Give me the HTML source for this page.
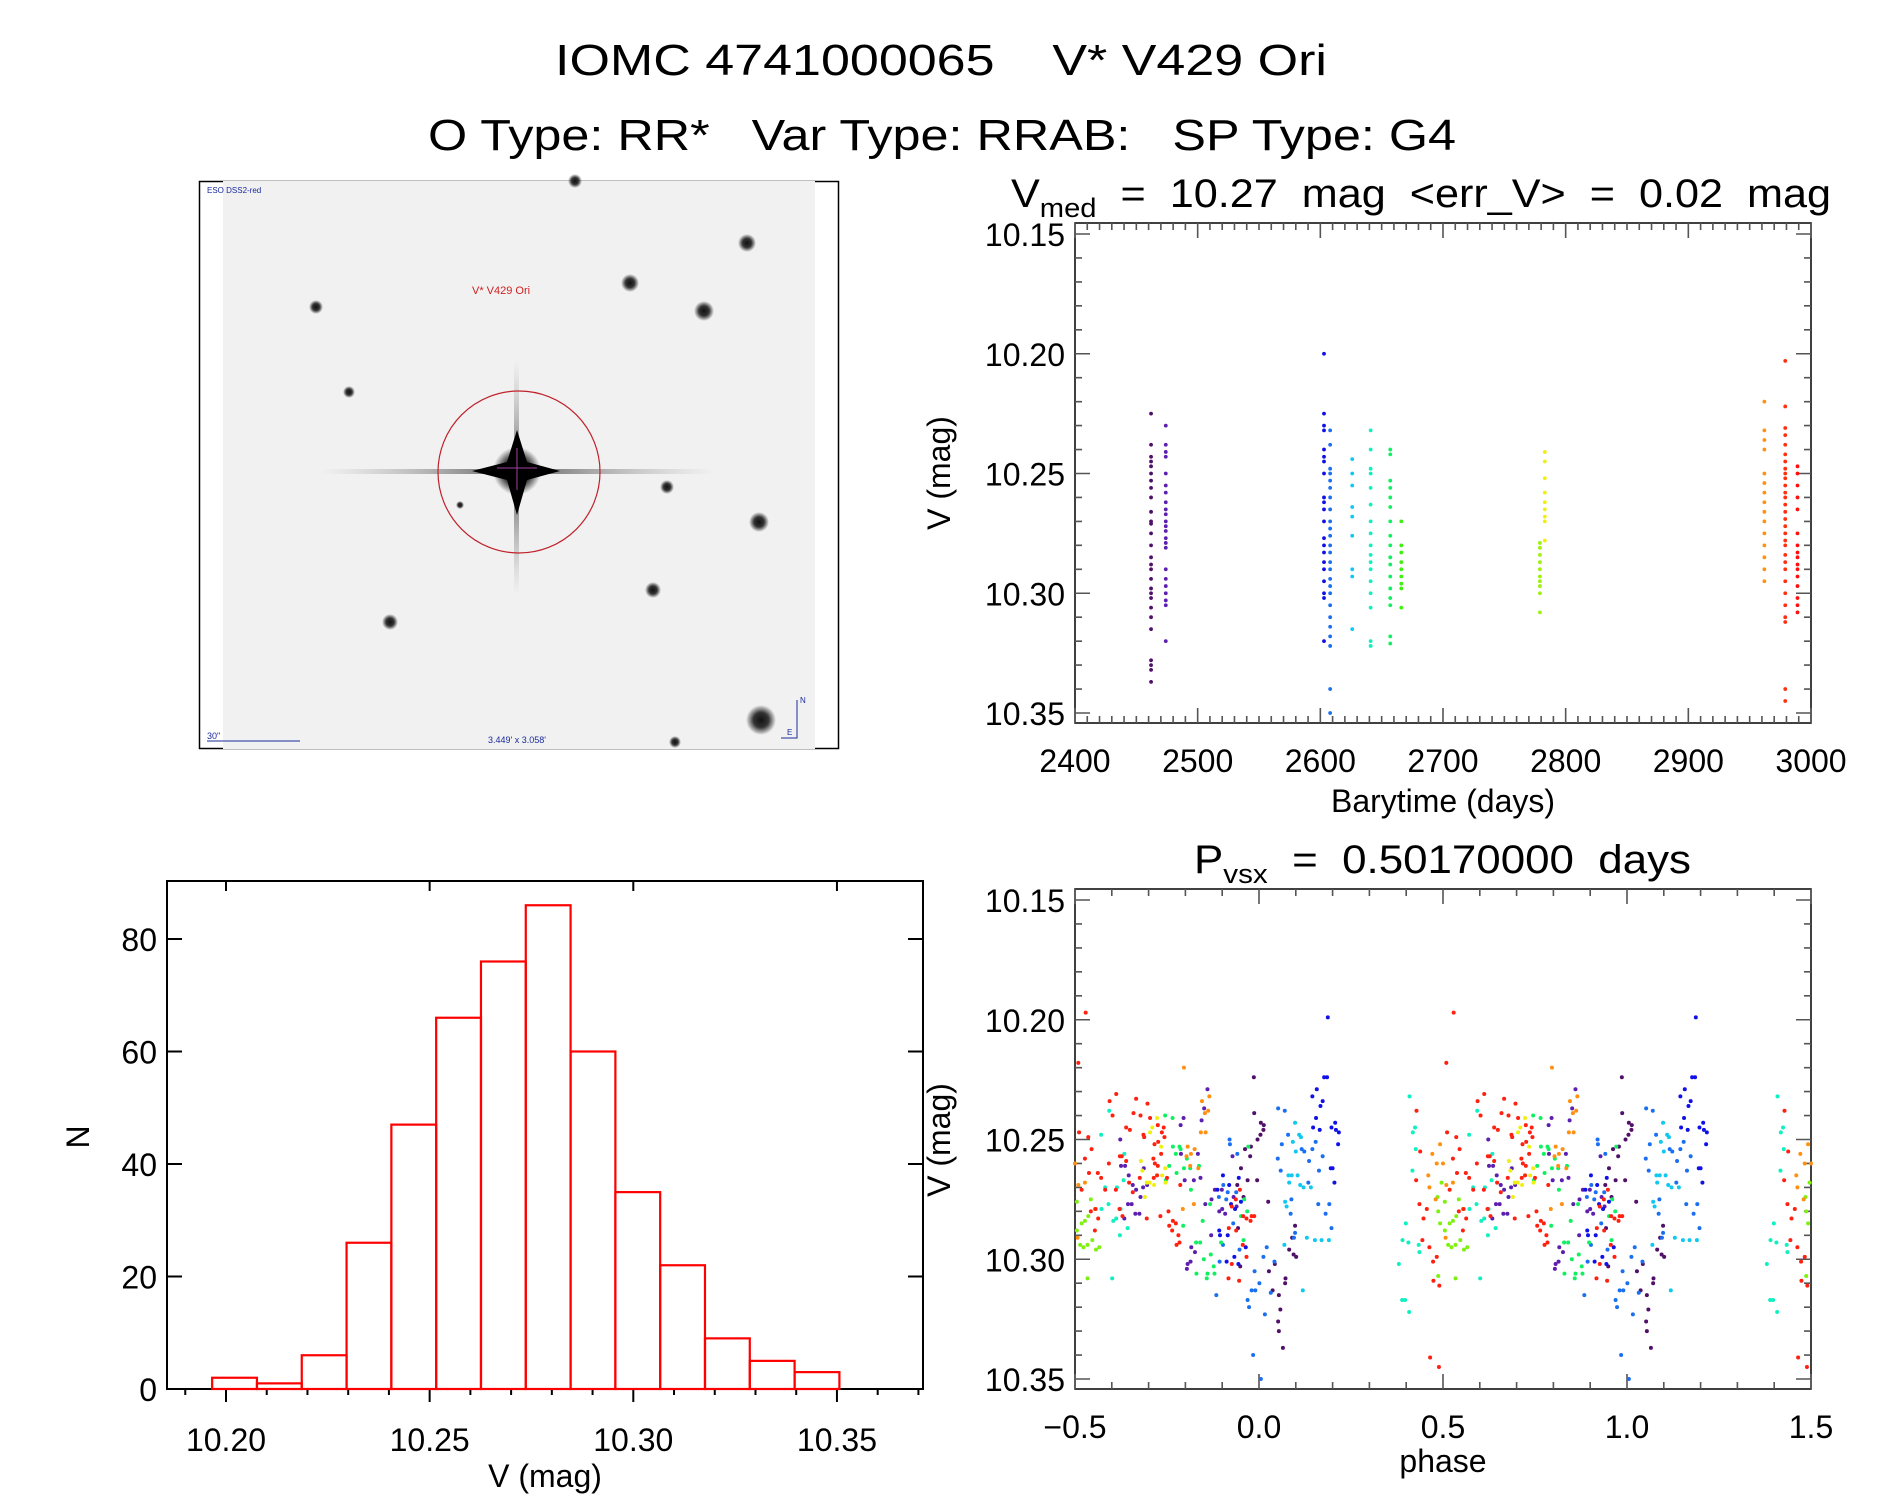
<!DOCTYPE html>
<html><head><meta charset="utf-8"><style>
html,body{margin:0;padding:0;background:#fff}
svg{display:block}
text{font-family:"Liberation Sans",sans-serif;fill:#000;white-space:pre}
</style></head><body>
<svg id="s" width="1889" height="1494" viewBox="0 0 1889 1494" xmlns="http://www.w3.org/2000/svg" xml:space="preserve">
<rect width="1889" height="1494" fill="#fff"/>
<text x="941" y="75" font-size="44" text-anchor="middle" textLength="772" lengthAdjust="spacingAndGlyphs">IOMC 4741000065    V* V429 Ori</text>
<text x="942" y="150" font-size="44" text-anchor="middle" textLength="1028" lengthAdjust="spacingAndGlyphs">O Type: RR*   Var Type: RRAB:   SP Type: G4</text>

<g>
<defs>
<radialGradient id="st"><stop offset="0" stop-color="#111"/><stop offset="0.5" stop-color="#333"/><stop offset="1" stop-color="#333" stop-opacity="0"/></radialGradient>
<radialGradient id="big"><stop offset="0" stop-color="#000"/><stop offset="0.45" stop-color="#000"/><stop offset="1" stop-color="#000" stop-opacity="0"/></radialGradient>
<linearGradient id="hs" x1="0" x2="1"><stop offset="0" stop-color="#888" stop-opacity="0"/><stop offset="0.5" stop-color="#222"/><stop offset="1" stop-color="#888" stop-opacity="0"/></linearGradient>
<linearGradient id="vs" x1="0" x2="0" y1="0" y2="1"><stop offset="0" stop-color="#888" stop-opacity="0"/><stop offset="0.5" stop-color="#222"/><stop offset="1" stop-color="#888" stop-opacity="0"/></linearGradient>
</defs>
<rect x="199.5" y="181.5" width="639" height="567" fill="none" stroke="#000" stroke-width="1.5"/>
<rect x="223" y="181" width="592" height="568" fill="#f1f1f1"/>
<g id="stars"></g>
<rect x="320" y="469" width="395" height="5" fill="url(#hs)" opacity="0.7"/>
<rect x="514" y="360" width="5" height="235" fill="url(#vs)" opacity="0.7"/>
<path d="M517 430 L527 462 L560 471 L527 480 L517 515 L507 480 L472 471 L507 462 Z" fill="#000"/>
<circle cx="517" cy="471" r="24" fill="url(#big)"/>
<circle cx="519" cy="472" r="81" fill="none" stroke="#c0202a" stroke-width="1.2"/>
<path d="M497 468H537M517 448V490" stroke="#a040a0" stroke-width="1"/>
<text x="472" y="294" font-size="11" style="fill:#d02020">V* V429 Ori</text>
<text x="207" y="193" font-size="8" style="fill:#1a2a9a">ESO DSS2-red</text>
<text x="207" y="739" font-size="9" style="fill:#1a2a9a">30"</text>
<path d="M207 741H300" stroke="#1a2a9a" stroke-width="1"/>
<text x="488" y="743" font-size="9" style="fill:#1a2a9a">3.449' x 3.058'</text>
<path d="M797 700V738H781" stroke="#1a2a9a" fill="none"/>
<text x="800" y="703" font-size="8" style="fill:#1a2a9a">N</text>
<text x="787" y="735" font-size="8" style="fill:#1a2a9a">E</text>
</g>

<g id="lc"></g>
<g id="ph"></g>
<g id="hist"></g>
</svg>
<script>
// ---------- sky stars ----------
const starX=[747,630,704,316,575,349,667,759,653,390,761,675,460];
const starY=[243,283,311,307,181,392,487,522,590,622,720,742,505];
const starR=[9,9,10,7,7,6,7,10,8,8,15,6,4];
// ---------- light-curve data ----------
const groupColors=["#50106a","#5c1fb0","#1010e8","#1a70f0","#10c8f0","#10f0c0","#10f060","#40f010","#a0f010","#f0f010","#ff9010","#ff3010","#ff1010"];
const groupTimes=[2462,2474,2603,2608,2626,2641,2657,2666,2779,2783,2962,2979,2989];
const groupMags=[
[10.225,10.238,10.243,10.245,10.247,10.25,10.253,10.256,10.26,10.266,10.27,10.271,10.275,10.28,10.285,10.288,10.29,10.294,10.298,10.30,10.302,10.306,10.31,10.315,10.328,10.33,10.332,10.337],
[10.23,10.238,10.241,10.243,10.25,10.255,10.258,10.262,10.265,10.267,10.27,10.272,10.274,10.277,10.279,10.281,10.29,10.294,10.297,10.3,10.303,10.305,10.32],
[10.20,10.225,10.23,10.232,10.24,10.243,10.245,10.25,10.26,10.262,10.265,10.27,10.277,10.28,10.283,10.287,10.29,10.295,10.3,10.302,10.32],
[10.232,10.238,10.248,10.25,10.253,10.256,10.26,10.265,10.27,10.273,10.276,10.28,10.283,10.287,10.29,10.294,10.297,10.3,10.305,10.31,10.314,10.318,10.322,10.34,10.35],
[10.244,10.25,10.255,10.264,10.268,10.276,10.29,10.293,10.315],
[10.232,10.24,10.248,10.25,10.256,10.263,10.27,10.275,10.28,10.284,10.287,10.29,10.295,10.3,10.306,10.32,10.322],
[10.24,10.242,10.253,10.256,10.26,10.264,10.27,10.276,10.28,10.285,10.288,10.293,10.298,10.302,10.305,10.318,10.321],
[10.27,10.28,10.283,10.287,10.29,10.293,10.296,10.298,10.306],
[10.279,10.281,10.284,10.287,10.29,10.293,10.295,10.297,10.3,10.308],
[10.241,10.245,10.252,10.258,10.262,10.265,10.268,10.27,10.278],
[10.22,10.232,10.236,10.24,10.25,10.254,10.258,10.262,10.266,10.27,10.275,10.28,10.285,10.29,10.295],
[10.203,10.222,10.231,10.234,10.238,10.242,10.245,10.248,10.25,10.252,10.255,10.258,10.26,10.263,10.266,10.269,10.272,10.275,10.278,10.28,10.284,10.287,10.29,10.295,10.3,10.305,10.31,10.312,10.34,10.345],
[10.247,10.25,10.255,10.26,10.265,10.275,10.28,10.283,10.285,10.288,10.29,10.293,10.297,10.302,10.305,10.308]
];
const lcXTicks=[2400,2500,2600,2700,2800,2900,3000];
const magTicks=[10.15,10.20,10.25,10.30,10.35];
// ---------- phase data (phase, mag) ----------
const phRed=[[-0.471,10.197],[-0.491,10.218],[-0.489,10.247],[-0.464,10.249],[-0.455,10.254],[-0.473,10.258],[-0.462,10.264],[-0.482,10.271],[-0.438,10.264],[-0.429,10.266],[-0.418,10.271],[-0.444,10.279],[-0.457,10.28],[-0.437,10.283],[-0.446,10.288],[-0.406,10.234],[-0.398,10.24],[-0.388,10.231],[-0.408,10.26],[-0.378,10.257],[-0.361,10.245],[-0.351,10.246],[-0.334,10.233],[-0.341,10.239],[-0.322,10.24],[-0.303,10.235],[-0.296,10.241],[-0.314,10.248],[-0.312,10.249],[-0.275,10.244],[-0.259,10.245],[-0.264,10.247],[-0.257,10.249],[-0.284,10.252],[-0.274,10.251],[-0.266,10.256],[-0.287,10.258],[-0.283,10.26],[-0.275,10.261],[-0.25,10.266],[-0.286,10.266],[-0.277,10.265],[-0.389,10.271],[-0.361,10.259],[-0.373,10.257],[-0.353,10.268],[-0.343,10.272],[-0.324,10.266],[-0.379,10.279],[-0.371,10.282],[-0.305,10.283],[-0.268,10.282],[-0.246,10.28],[-0.244,10.286],[-0.234,10.284],[-0.226,10.285],[-0.236,10.288],[-0.219,10.29],[-0.216,10.293],[-0.224,10.294],[-0.214,10.269],[-0.082,10.287],[-0.074,10.278],[-0.052,10.271],[-0.063,10.275],[-0.043,10.282],[-0.034,10.283],[-0.023,10.284],[-0.02,10.282],[-0.013,10.282],[-0.062,10.288],[-0.044,10.294],[-0.034,10.299],[-0.074,10.302],[-0.083,10.308],[-0.054,10.309],[-0.572,10.238],[-0.562,10.255],[-0.573,10.267],[-0.564,10.277],[-0.544,10.279],[-0.553,10.283],[-0.556,10.292],[-0.537,10.295],[-0.517,10.299],[-0.527,10.301],[-0.526,10.309],[-0.51,10.311],[-0.535,10.341],[-0.511,10.345]];
const phOrange=[[-0.204,10.22],[-0.155,10.234],[-0.135,10.232],[-0.147,10.239],[-0.138,10.238],[-0.158,10.247],[-0.145,10.247],[-0.194,10.253],[-0.175,10.254],[-0.185,10.256],[-0.197,10.257],[-0.165,10.262],[-0.187,10.261],[-0.207,10.279],[-0.177,10.277],[-0.5,10.26],[-0.491,10.269],[-0.473,10.268],[-0.493,10.291],[-0.508,10.252],[-0.529,10.256],[-0.517,10.26],[-0.54,10.265],[-0.537,10.27],[-0.52,10.275]];
const phYellow=[[-0.277,10.241],[-0.29,10.245],[-0.296,10.247],[-0.266,10.253],[-0.321,10.259],[-0.317,10.263],[-0.255,10.262],[-0.263,10.265],[-0.305,10.268],[-0.285,10.269],[-0.297,10.268],[-0.31,10.274],[-0.254,10.268]];
const phGreen=[[-0.255,10.24],[-0.235,10.241],[-0.234,10.253],[-0.216,10.253],[-0.226,10.256],[-0.213,10.254],[-0.196,10.258],[-0.204,10.262],[-0.187,10.262],[-0.163,10.261],[-0.244,10.261],[-0.224,10.264],[-0.253,10.267],[-0.185,10.271],[-0.206,10.286],[-0.153,10.284],[-0.133,10.277],[-0.029,10.253],[-0.04,10.275],[-0.032,10.28],[-0.049,10.282],[-0.103,10.293],[-0.042,10.292],[-0.171,10.293],[-0.16,10.293],[-0.131,10.298],[-0.15,10.3],[-0.123,10.303],[-0.17,10.306],[-0.14,10.306],[-0.121,10.306],[-0.142,10.308]];
const phLime=[[-0.495,10.276],[-0.495,10.288],[-0.486,10.294],[-0.477,10.295],[-0.466,10.294],[-0.453,10.292],[-0.443,10.296],[-0.434,10.295],[-0.457,10.275],[-0.464,10.282],[-0.473,10.284],[-0.482,10.285],[-0.466,10.308],[-0.446,10.279],[-0.504,10.268],[-0.515,10.274],[-0.513,10.28],[-0.508,10.285],[-0.513,10.307]];
const phAqua=[[-0.429,10.248],[-0.407,10.238],[-0.366,10.256],[-0.368,10.267],[-0.418,10.27],[-0.386,10.27],[-0.409,10.277],[-0.428,10.279],[-0.376,10.279],[-0.388,10.283],[-0.396,10.284],[-0.357,10.287],[-0.378,10.29],[-0.399,10.308],[-0.591,10.232],[-0.576,10.245],[-0.582,10.247],[-0.574,10.254],[-0.583,10.263],[-0.601,10.285],[-0.61,10.292],[-0.594,10.293],[-0.566,10.294],[-0.564,10.297],[-0.62,10.302],[-0.611,10.317],[-0.603,10.317],[-0.592,10.322]];
const phCyan=[[0.098,10.243],[0.109,10.248],[0.114,10.249],[0.092,10.251],[0.1,10.255],[0.08,10.265],[0.089,10.265],[0.082,10.268],[0.105,10.265],[0.112,10.269],[0.121,10.27],[0.141,10.27],[0.071,10.276],[0.075,10.278],[0.13,10.291],[0.152,10.292],[0.17,10.292],[0.19,10.292],[0.069,10.294],[0.119,10.313]];
const phAzure=[[0.052,10.237],[0.07,10.238],[0.079,10.248],[0.062,10.252],[0.051,10.258],[0.059,10.263],[0.116,10.254],[0.123,10.255],[0.136,10.259],[0.145,10.254],[0.154,10.251],[0.173,10.257],[0.163,10.263],[0.134,10.268],[0.088,10.275],[0.086,10.281],[0.161,10.277],[0.181,10.281],[0.191,10.277],[0.197,10.287],[0.098,10.289],[0.095,10.291],[-0.08,10.25],[-0.079,10.252],[-0.059,10.256],[-0.097,10.269],[-0.109,10.274],[-0.085,10.272],[-0.062,10.272],[-0.089,10.275],[-0.07,10.285],[-0.098,10.294],[-0.053,10.296],[0.012,10.299],[0.021,10.295],[-0.107,10.301],[0.042,10.301],[-0.012,10.305],[0.001,10.31],[-0.02,10.313],[-0.01,10.313],[0.032,10.314],[-0.116,10.315],[-0.031,10.317],[-0.016,10.34],[0.005,10.35],[0.016,10.323],[-0.027,10.32]];
const phBlue=[[0.187,10.199],[0.177,10.224],[0.185,10.224],[0.157,10.229],[0.145,10.232],[0.173,10.234],[0.167,10.236],[0.155,10.241],[0.147,10.245],[0.165,10.246],[0.197,10.245],[0.207,10.243],[0.209,10.246],[0.217,10.247],[0.215,10.252],[0.195,10.262],[0.2,10.262],[0.205,10.268],[-0.098,10.265],[-0.055,10.266],[-0.076,10.277],[-0.065,10.279],[-0.049,10.276],[-0.108,10.288],[-0.106,10.29],[-0.085,10.29],[-0.067,10.299],[-0.056,10.302],[-0.036,10.295],[-0.088,10.301],[-0.081,10.269],[-0.113,10.271]];
const phPurple=[[-0.14,10.229],[-0.149,10.237],[-0.156,10.242],[-0.205,10.241],[-0.213,10.244],[-0.212,10.256],[-0.166,10.256],[-0.377,10.25],[-0.375,10.261],[-0.364,10.261],[-0.354,10.265],[-0.343,10.269],[-0.334,10.271],[-0.315,10.27],[-0.322,10.274],[-0.313,10.262],[-0.304,10.269],[-0.356,10.277],[-0.346,10.277],[-0.336,10.281],[-0.325,10.281],[-0.366,10.283],[-0.202,10.267],[-0.177,10.267],[-0.159,10.266],[-0.146,10.277],[-0.13,10.29],[-0.184,10.295],[-0.174,10.297],[-0.186,10.301],[-0.194,10.302],[-0.196,10.304],[-0.072,10.257],[-0.12,10.271],[-0.101,10.271],[-0.108,10.28],[-0.1,10.279],[-0.129,10.275],[-0.092,10.281],[-0.069,10.274],[-0.061,10.278]];
const phDark=[[-0.014,10.224],[-0.013,10.239],[0.005,10.243],[0.013,10.244],[0.012,10.246],[0.004,10.248],[-0.004,10.25],[-0.022,10.253],[-0.038,10.254],[-0.024,10.257],[-0.049,10.262],[-0.031,10.267],[-0.005,10.267],[-0.042,10.274],[-0.059,10.269],[-0.057,10.287],[0.025,10.276],[0.098,10.286],[0.09,10.291],[0.082,10.296],[0.094,10.298],[0.101,10.299],[0.043,10.302],[0.027,10.305],[0.072,10.308],[0.071,10.31],[0.037,10.313],[0.054,10.315],[-0.051,10.303],[0.052,10.326],[0.054,10.33],[0.058,10.321],[0.065,10.337]];
const phaseTicks=[-0.5,0.0,0.5,1.0,1.5];
// ---------- histogram ----------
const histCounts=[2,1,6,26,47,66,76,86,60,35,22,9,5,3];
const histStart=10.1966, histBin=0.011;
const histXTicks=[10.20,10.25,10.30,10.35];
const histYTicks=[0,20,40,60,80];

const NS="http://www.w3.org/2000/svg";
function mk(tag,attrs,parent){const e=document.createElementNS(NS,tag);for(const k in attrs)e.setAttribute(k,attrs[k]);parent.appendChild(e);return e;}

const sg=document.getElementById('stars');
for(let i=0;i<starX.length;i++){
  const c=mk('circle',{cx:starX[i],cy:starY[i],r:starR[i],fill:'url(#st)'},sg);
  
  
}

function magPanel(g,L,R,T,B,xmin,xmax,xMajor,xMinor,xt,xfmt,xTitle,xTitleY,titleParts,titleY,axLabelY){
  const y0=T+11, yk=(B-T-21)/0.2;
  const ys=v=>y0+(v-10.15)*yk;
  const xs=v=>L+(v-xmin)/(xmax-xmin)*(R-L);
  const fr=mk('rect',{x:L,y:T,width:R-L,height:B-T,fill:'none',stroke:'#000','stroke-width':1.5},g);
  
  
  let d='';
  for(let k=0;k<=20;k++){const v=10.15+k*0.01;const y=ys(v);const len=(k%5===0)?15:7;
    d+=`M${L} ${y}h${len}M${R} ${y}h${-len}`;}
  const n=Math.round((xmax-xmin)/xMinor);
  for(let k=0;k<=n;k++){const v=xmin+k*xMinor;const x=xs(v);const maj=Math.abs(v/xMajor-Math.round(v/xMajor))<1e-6;const len=maj?15:7;
    d+=`M${x} ${B}v${-len}M${x} ${T}v${len}`;}
  mk('path',{d:d,stroke:'#555','stroke-width':1.6,fill:'none'},g);
  for(const v of magTicks){const t=mk('text',{x:L-10,y:ys(v)+12,'font-size':32,'text-anchor':'end'},g);t.textContent=v.toFixed(2);
    
    }
  for(const v of xt){const t=mk('text',{x:xs(v),y:B+49,'font-size':32,'text-anchor':'middle'},g);t.textContent=xfmt(v);
    
    }
  const xtl=mk('text',{x:(L+R)/2,y:xTitleY,'font-size':32,'text-anchor':'middle'},g);xtl.textContent=xTitle;
  
  
  const ytl=mk('text',{x:0,y:0,'font-size':32,'text-anchor':'middle',transform:`translate(950 ${axLabelY}) rotate(-90)`},g);ytl.textContent='V (mag)';
  
  
  const tt=mk('text',{x:titleParts.x,y:titleY,'font-size':40,textLength:titleParts.w,lengthAdjust:'spacingAndGlyphs'},g);
  
  
  const a=mk('tspan',{},tt);a.textContent=titleParts.a;
  const b=mk('tspan',{dy:10,'font-size':27},tt);b.textContent=titleParts.sub;
  const c=mk('tspan',{dy:-10},tt);c.textContent=titleParts.rest;
  return {xs,ys};
}

const lg=document.getElementById('lc');
const lcAx=magPanel(lg,1075,1811,223,723,2400,3000,100,10,lcXTicks,v=>String(v),'Barytime (days)',812,{x:1011,w:820,a:'V',sub:'med',rest:'  =  10.27  mag  <err_V>  =  0.02  mag'},207,473);
for(let gi=0;gi<groupTimes.length;gi++){
  for(const m of groupMags[gi]){
    const c=mk('circle',{cx:lcAx.xs(groupTimes[gi]),cy:lcAx.ys(m),r:1.9,fill:groupColors[gi]},lg);
    
    
  }
}

const pg=document.getElementById('ph');
const phAx=magPanel(pg,1075,1811,889,1389,-0.5,1.5,0.5,0.1,phaseTicks,v=>(v<0?'\u22120.5':v.toFixed(1)),'phase',1472,{x:1194,w:497,a:'P',sub:'vsx',rest:'  =  0.50170000  days'},873,1140);
const phSets=[[phDark,"#50106a"],[phPurple,"#5c1fb0"],[phBlue,"#1010e8"],[phAzure,"#1a70f0"],[phCyan,"#10c8f0"],[phAqua,"#10f0c0"],[phGreen,"#10f060"],[phLime,"#80f010"],[phYellow,"#f0f010"],[phOrange,"#ff9010"],[phRed,"#ff2010"]];
for(const [arr,col] of phSets){
  for(const p of arr){
    for(const sh of [0,1,2]){
      const ph=p[0]+sh;
      if(ph<-0.5||ph>1.5)continue;
      const c=mk('circle',{cx:phAx.xs(ph),cy:phAx.ys(p[1]),r:2,fill:col},pg);
      
      
    }
  }
}

const hg=document.getElementById('hist');
const HL=167,HR=923,HT=881,HB=1389;
const hx=v=>226+(v-10.20)*4073;
const hy=n=>HB-n*5.625;
const hf=mk('path',{d:`M${HL} ${HT}H${HR}V${HB}H${HL}Z`,fill:'none',stroke:'#000','stroke-width':2},hg);


let hd='';
for(let k=-1;k<=17;k++){const v=10.20+k*0.01;const x=hx(v);if(x<HL||x>HR)continue;const maj=(k%5===0);
  hd+=`M${x} ${HB}v${maj?13:6}`; if(maj)hd+=`M${x} ${HT}v10`;}
for(const n of histYTicks){hd+=`M${HL} ${hy(n)}h15M${HR} ${hy(n)}h-15`;}
mk('path',{d:hd,stroke:'#000','stroke-width':2,fill:'none'},hg);
for(let i=0;i<histCounts.length;i++){
  const x0=hx(histStart+i*histBin),x1=hx(histStart+(i+1)*histBin);
  const r=mk('rect',{x:x0,y:hy(histCounts[i]),width:x1-x0,height:HB-hy(histCounts[i]),fill:'none',stroke:'#ff0000','stroke-width':2.2},hg);
  
  
}
for(const v of histXTicks){const t=mk('text',{x:hx(v),y:1451,'font-size':32,'text-anchor':'middle'},hg);t.textContent=v.toFixed(2);
  
  }
for(const n of histYTicks){const t=mk('text',{x:157,y:hy(n)+12,'font-size':32,'text-anchor':'end'},hg);t.textContent=String(n);
  
  }
const hxt=mk('text',{x:545,y:1487,'font-size':32,'text-anchor':'middle'},hg);hxt.textContent='V (mag)';


const hyt=mk('text',{x:0,y:0,'font-size':32,'text-anchor':'middle',transform:'translate(89 1137) rotate(-90)'},hg);hyt.textContent='N';


</script>
</body></html>
